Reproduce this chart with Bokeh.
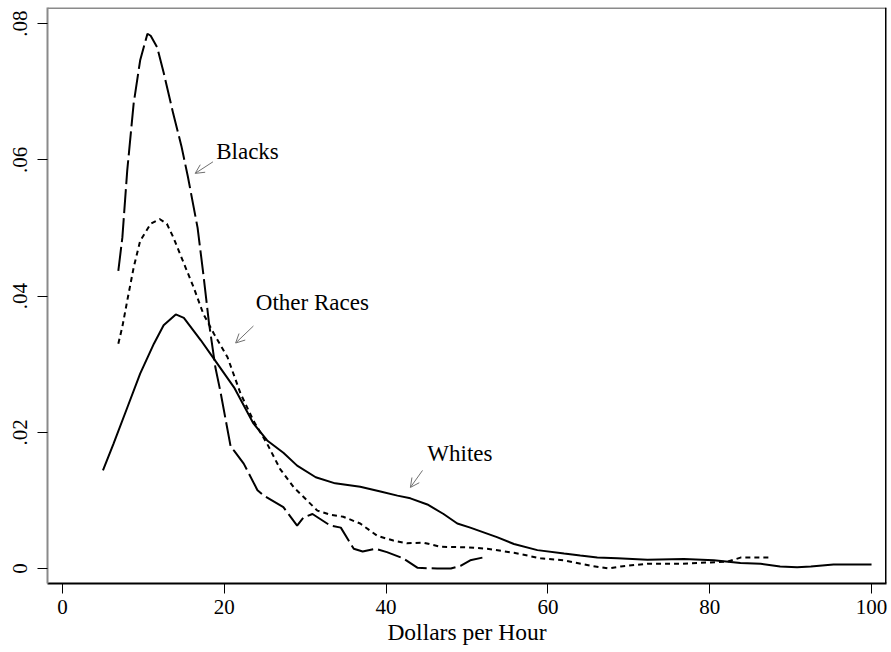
from bokeh.plotting import figure
from bokeh.models import Range1d, FixedTicker, Span, Arrow, OpenHead
from bokeh.core.properties import value
from bokeh.embed import file_html
from bokeh.resources import INLINE

# ---- data ----
whites_x = [5.0, 6.3, 8.0, 9.6, 11.3, 12.5, 14.0, 15.0, 17.1, 18.7, 21.2, 23.6, 25.3, 27.3, 29.0,
            31.3, 33.7, 36.8, 39.3, 41.4, 43.0, 45.1, 47.1, 48.8, 50.4, 53.7, 55.8, 58.7, 62.0,
            64.0, 66.1, 68.6, 72.3, 76.8, 80.5, 83.8, 86.3, 88.7, 90.8, 92.5, 95.3, 100.0]
whites_y = [0.0144, 0.0183, 0.0236, 0.0286, 0.0330, 0.0357, 0.0373, 0.0368, 0.0335, 0.0308, 0.0266,
            0.0213, 0.0188, 0.0170, 0.0151, 0.0134, 0.0125, 0.0120, 0.0113, 0.0107, 0.0103, 0.0094,
            0.0080, 0.0066, 0.0060, 0.0046, 0.0036, 0.0027, 0.0022, 0.0019, 0.0016, 0.0015, 0.0013,
            0.0014, 0.0012, 0.0008, 0.0007, 0.0003, 0.0002, 0.0003, 0.0006, 0.0006]

blacks_x = [6.9, 7.4, 8.0, 8.8, 9.6, 10.5, 10.9, 11.7, 12.5, 13.7, 14.7, 15.5, 16.7, 17.4, 18.1,
            18.9, 19.5, 20.8, 21.2, 22.4, 24.1, 24.9, 27.3, 29.0, 29.8, 30.9, 33.1, 34.4, 36.0,
            37.1, 38.7, 40.1, 42.1, 43.9, 46.3, 48.0, 49.2, 50.4, 51.9]
blacks_y = [0.0437, 0.0486, 0.0584, 0.0683, 0.0746, 0.0785, 0.0782, 0.0765, 0.0728, 0.0667, 0.0620,
            0.0575, 0.0500, 0.0433, 0.0361, 0.0295, 0.0261, 0.0178, 0.0173, 0.0154, 0.0115, 0.0107,
            0.0090, 0.0063, 0.0075, 0.0080, 0.0063, 0.0060, 0.0029, 0.0025, 0.0029, 0.0024, 0.0015,
            0.0001, 0.0000, 0.0000, 0.0004, 0.0012, 0.0016]

others_x = [6.9, 7.4, 8.0, 8.8, 9.6, 10.9, 12.0, 12.9, 13.7, 15.0, 16.2, 17.4, 18.7, 20.4, 22.0,
            23.6, 25.3, 26.9, 28.6, 31.5, 33.1, 34.7, 36.8, 38.9, 40.9, 42.6, 44.6, 46.7, 50.1,
            52.5, 55.8, 59.1, 62.0, 65.3, 67.5, 69.0, 72.3, 76.4, 80.1, 82.2, 83.8, 87.5]
others_y = [0.0330, 0.0355, 0.0393, 0.0442, 0.0481, 0.0506, 0.0513, 0.0506, 0.0486, 0.0448, 0.0413,
            0.0374, 0.0345, 0.0310, 0.0257, 0.0217, 0.0183, 0.0146, 0.0119, 0.0085, 0.0079, 0.0076,
            0.0066, 0.0048, 0.0041, 0.0037, 0.0038, 0.0032, 0.0031, 0.0029, 0.0023, 0.0015, 0.0012,
            0.0004, 0.0000, 0.0003, 0.0007, 0.0007, 0.0009, 0.0010, 0.0016, 0.0016]

x_ticks = [0, 20, 40, 60, 80, 100]
y_ticks = [0, 0.02, 0.04, 0.06, 0.08]
y_tick_labels = ["0", ".02", ".04", ".06", ".08"]

labels = ["Blacks", "Other Races", "Whites"]

SERIF = "Liberation Serif"

X0, X1 = -1.854, 101.85
Y0, Y1 = -0.0022, 0.08235

p = figure(width=891, height=652, output_backend="svg", toolbar_location=None,
           x_range=Range1d(X0, X1), y_range=Range1d(Y0, Y1),
           min_border_left=47, min_border_right=5, min_border_top=7, min_border_bottom=69)
p.background_fill_color = "white"
p.border_fill_color = "white"
p.outline_line_color = None
p.grid.visible = False

# axes
for ax in (p.xaxis[0], p.yaxis[0]):
    ax.major_tick_out = 10
    ax.major_tick_in = 0
    ax.minor_tick_out = 0
    ax.minor_tick_in = 0
    ax.major_tick_line_color = "black"
    ax.major_tick_line_width = 1
    ax.major_label_text_font = SERIF
    ax.major_label_text_font_size = "21px"
    ax.major_label_text_color = "black"
    ax.axis_label_text_font = SERIF
    ax.axis_label_text_font_size = "23.5px"
    ax.axis_label_text_font_style = "normal"
    ax.axis_label_text_color = "black"

p.xaxis.ticker = FixedTicker(ticks=x_ticks)
p.xaxis.axis_label = "Dollars per Hour"
p.xaxis.axis_line_color = "black"
p.xaxis.axis_line_width = 2
p.xaxis.major_label_standoff = 6
p.xaxis.axis_label_standoff = 2

p.yaxis.ticker = FixedTicker(ticks=y_ticks)
p.yaxis.major_label_overrides = {t: l for t, l in zip(y_ticks, y_tick_labels)}
p.yaxis.major_label_orientation = "vertical"
p.yaxis.axis_line_color = "#8a8a8a"
p.yaxis.axis_line_width = 2
p.yaxis.major_label_standoff = 10

# top and right frame lines
p.add_layout(Span(location=Y1, dimension="width", line_color="#8a8a8a", line_width=3))
p.add_layout(Span(location=X1, dimension="height", line_color="black", line_width=3))

# density curves
p.line(whites_x, whites_y, line_color="black", line_width=2)
p.line(blacks_x, blacks_y, line_color="black", line_width=2, line_dash="24 5")
p.line(others_x, others_y, line_color="black", line_width=2, line_dash="5 4")

# annotations
p.text(x=[19.0, 23.9, 45.1], y=[0.0612, 0.0390, 0.0169], text=labels,
       text_font=value(SERIF), text_font_size="23px", text_color="black",
       text_align="left", text_baseline="middle")

arrows = [((18.6, 0.0597), (16.4, 0.0580)),
          ((23.6, 0.0356), (21.4, 0.0331)),
          ((44.5, 0.0144), (43.0, 0.0119))]
for (xs, ys), (xe, ye) in arrows:
    p.add_layout(Arrow(end=OpenHead(size=9, line_color="#707070", line_width=1),
                       x_start=xs, y_start=ys, x_end=xe, y_end=ye,
                       line_color="#707070", line_width=1))

open("out.html", "w").write(file_html(p, INLINE))
